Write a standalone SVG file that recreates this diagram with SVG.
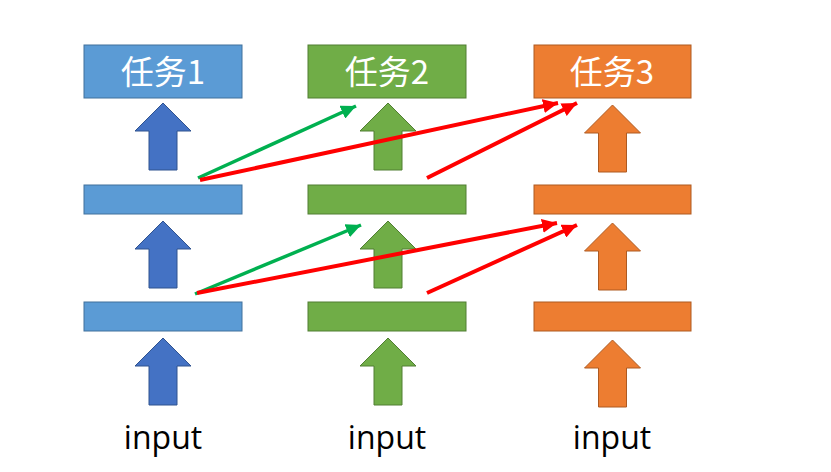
<svg xmlns="http://www.w3.org/2000/svg" xmlns:xlink="http://www.w3.org/1999/xlink" width="831" height="472" viewBox="0 0 831 472">
<style>
.b{fill:#5B9BD5;stroke:#41719C;stroke-width:1}
.ba{fill:#4472C4;stroke:#2F528F;stroke-width:1}
.g{fill:#70AD47;stroke:#507E32;stroke-width:1}
.o{fill:#ED7D31;stroke:#AE5A21;stroke-width:1}
.t{font-family:"Noto Sans CJK SC","Noto Sans",sans-serif;font-size:33px;fill:#fff;text-anchor:middle}
.in{font-family:"Open Sans","Noto Sans",sans-serif;font-size:32px;fill:#000;text-anchor:middle}
.lg{stroke:#00B050;stroke-width:3.5;fill:none}
.lr{stroke:#FF0000;stroke-width:4;fill:none}
</style>
<defs>
<polygon id="ua" points="0,0 28,28 14,28 14,67 -14,67 -14,28 -28,28"/>
<marker id="mg" markerUnits="userSpaceOnUse" markerWidth="16" markerHeight="14" refX="15" refY="7" orient="auto"><path d="M0,0 L15,7 L0,14 Z" fill="#00B050"/></marker>
<marker id="mr" markerUnits="userSpaceOnUse" markerWidth="16" markerHeight="14" refX="15" refY="7" orient="auto"><path d="M0,0 L15,7 L0,14 Z" fill="#FF0000"/></marker>
</defs>
<rect width="831" height="472" fill="#fff"/>
<g id="col1">
<g id="task1"><rect class="b" x="84" y="45" width="158" height="53"/><text class="t" x="163" y="84">任务1</text></g>
<g id="layer1-2"><rect class="b" x="84" y="185" width="158" height="29"/></g>
<g id="layer1-1"><rect class="b" x="84" y="302" width="158" height="29"/></g>
<use href="#ua" class="ba" x="163" y="103"/>
<use href="#ua" class="ba" x="163" y="221"/>
<use href="#ua" class="ba" x="163" y="338"/>
<text id="input1" class="in" x="163" y="449">input</text>
</g>
<g id="col2">
<g id="task2"><rect class="g" x="308" y="45" width="158" height="53"/><text class="t" x="387" y="84">任务2</text></g>
<g id="layer2-2"><rect class="g" x="308" y="185" width="158" height="29"/></g>
<g id="layer2-1"><rect class="g" x="308" y="302" width="158" height="29"/></g>
<use href="#ua" class="g" x="388" y="103"/>
<use href="#ua" class="g" x="388" y="221"/>
<use href="#ua" class="g" x="388" y="338"/>
<text id="input2" class="in" x="387" y="449">input</text>
</g>
<g id="col3">
<g id="task3"><rect class="o" x="534" y="45" width="157" height="53"/><text class="t" x="612" y="84">任务3</text></g>
<g id="layer3-2"><rect class="o" x="534" y="185" width="157" height="29"/></g>
<g id="layer3-1"><rect class="o" x="534" y="302" width="157" height="29"/></g>
<use href="#ua" class="o" x="612.5" y="105"/>
<use href="#ua" class="o" x="612.5" y="223"/>
<use href="#ua" class="o" x="612.5" y="340"/>
<text id="input3" class="in" x="612" y="449">input</text>
</g>
<g id="connectors">
<line class="lg" x1="198" y1="178" x2="356" y2="106" marker-end="url(#mg)"/>
<line class="lr" x1="200" y1="180" x2="558" y2="103" marker-end="url(#mr)"/>
<line class="lr" x1="427" y1="178" x2="577" y2="103" marker-end="url(#mr)"/>
<line class="lg" x1="195" y1="294" x2="361" y2="225" marker-end="url(#mg)"/>
<line class="lr" x1="197" y1="293" x2="557" y2="223" marker-end="url(#mr)"/>
<line class="lr" x1="427" y1="293" x2="577" y2="225" marker-end="url(#mr)"/>
</g>
</svg>
